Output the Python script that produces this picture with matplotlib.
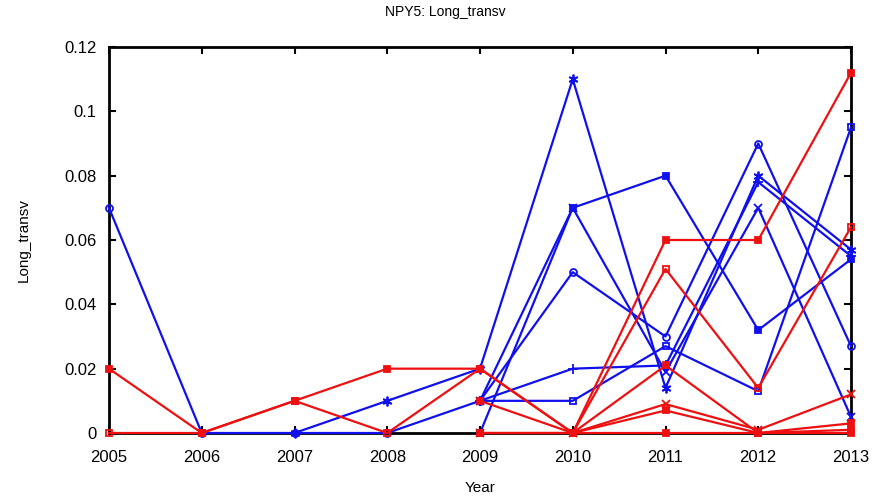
import numpy as np
import matplotlib
matplotlib.use("Agg")
import matplotlib.pyplot as plt

nan = np.nan
years = [2005, 2006, 2007, 2008, 2009, 2010, 2011, 2012, 2013]

# Blue series
b_circle = [0.07, 0.0, 0.0, 0.0, 0.01, 0.05, 0.03, 0.09, 0.027]
b_star = [nan, nan, 0.0, 0.01, 0.02, 0.11, 0.014, 0.08, 0.057]
b_fsq = [nan, nan, nan, nan, 0.0, 0.07, 0.08, 0.032, 0.054]
b_osq = [nan, nan, nan, nan, 0.01, 0.01, 0.027, 0.013, 0.095]
b_plus = [nan, nan, nan, nan, 0.01, 0.02, 0.021, 0.078, 0.055]
b_x = [nan, nan, nan, nan, 0.01, 0.07, 0.019, 0.07, 0.005]

# Red series
r_fsq = [0.02, 0.0, 0.01, 0.02, 0.02, 0.0, 0.06, 0.06, 0.112]
r_osq = [0.0, 0.0, 0.01, 0.0, 0.02, 0.0, 0.051, 0.014, 0.064]
r_a = [nan, nan, nan, nan, 0.01, 0.0, 0.021, 0.0, 0.003]
r_x = [nan, nan, nan, nan, 0.0, 0.0, 0.009, 0.001, 0.012]
r_b = [nan, nan, nan, nan, 0.0, 0.0, 0.007, 0.0, 0.001]
r_c = [nan, nan, nan, nan, nan, 0.0, 0.0, 0.0, 0.0]

yticks = [0, 0.02, 0.04, 0.06, 0.08, 0.1, 0.12]
ytick_labels = ["0", "0.02", "0.04", "0.06", "0.08", "0.1", "0.12"]

plt.rcParams['font.family'] = ['Liberation Sans', 'DejaVu Sans']

fig = plt.figure(figsize=(8.74, 5.03), dpi=100)
ax = fig.add_axes([109/874, 1-433/503, (851-109)/874, (433-47)/503])

BLUE = '#1010ee'
RED = '#ee1010'
lw = 1.6

def draw(vals, color, marker, filled=True, ms=5):
    ax.plot(years, vals, color=color, lw=lw, marker=marker, ms=ms,
            mfc=color if filled else 'none', mec=color, mew=1.3, clip_on=False, zorder=3)

draw(b_circle, BLUE, 'o', filled=False)
draw(b_star, BLUE, (6, 2, 0), ms=7)
draw(b_fsq, BLUE, 's')
draw(b_osq, BLUE, 's', filled=False)
draw(b_plus, BLUE, '+', ms=7)
draw(b_x, BLUE, 'x', ms=6)

draw(r_c, RED, 's')
draw(r_b, RED, 's')
draw(r_x, RED, 'x', ms=6)
draw(r_a, RED, 's')
draw(r_osq, RED, 's', filled=False)
draw(r_fsq, RED, 's')

ax.set_xlim(2005, 2013)
ax.set_ylim(0, 0.12)
ax.set_xticks(years)
ax.set_xticklabels([str(y) for y in years])
ax.set_yticks(yticks)
ax.set_yticklabels(ytick_labels)
ax.tick_params(direction='in', length=5, width=1.5, top=True, right=True,
               labelsize=12, colors='black')
ax.tick_params(axis='x', pad=12)
ax.tick_params(axis='y', pad=9)
for s in ax.spines.values():
    s.set_linewidth(2)
    s.set_zorder(2)

ax.set_xlabel("Year", fontsize=11, labelpad=12)
ax.set_ylabel("Long_transv", fontsize=11, labelpad=24)
fig.text(445/874, 1-12/503, "NPY5: Long_transv", ha='center', va='center', fontsize=10)

fig.savefig("out.png", dpi=100)
